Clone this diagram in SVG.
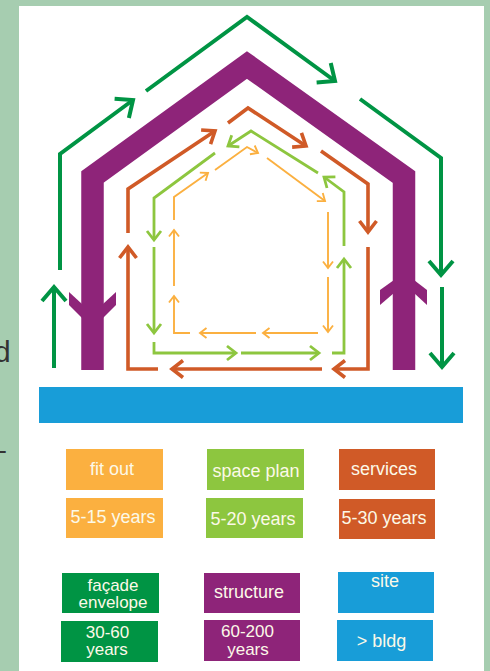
<svg xmlns="http://www.w3.org/2000/svg" width="490" height="671" viewBox="0 0 490 671">
<style>
.fac{fill:none;stroke:#009444;stroke-width:4;stroke-linejoin:miter}
.srv{fill:none;stroke:#d05a27;stroke-width:3.6;stroke-linejoin:miter}
.spc{fill:none;stroke:#8dc63f;stroke-width:2.8;stroke-linejoin:miter}
.fit{fill:none;stroke:#fbb040;stroke-width:1.9;stroke-linejoin:miter}
.lbl{font-family:"Liberation Sans",Arial,sans-serif;font-size:18px;fill:#fcf9e8;text-anchor:middle}
.lbl2{font-family:"Liberation Sans",Arial,sans-serif;font-size:17px;fill:#fcf9e8;text-anchor:middle}
.edge{font-family:"Liberation Sans",Arial,sans-serif;font-size:30px;fill:#333}
</style>
<defs>
<marker id="mFac" markerUnits="userSpaceOnUse" orient="auto" refX="0" refY="0" markerWidth="30" markerHeight="30" overflow="visible"><path d="M-14,-12 L0,0 L-14,12" fill="none" stroke="#009444" stroke-width="4"/></marker>
<marker id="mSrv" markerUnits="userSpaceOnUse" orient="auto" refX="0" refY="0" markerWidth="30" markerHeight="30" overflow="visible"><path d="M-11,-8.5 L0,0 L-11,8.5" fill="none" stroke="#d05a27" stroke-width="3.6"/></marker>
<marker id="mSpc" markerUnits="userSpaceOnUse" orient="auto" refX="0" refY="0" markerWidth="30" markerHeight="30" overflow="visible"><path d="M-9,-7 L0,0 L-9,7" fill="none" stroke="#8dc63f" stroke-width="2.8"/></marker>
<marker id="mFit" markerUnits="userSpaceOnUse" orient="auto" refX="0" refY="0" markerWidth="30" markerHeight="30" overflow="visible"><path d="M-6.5,-5 L0,0 L-6.5,5" fill="none" stroke="#fbb040" stroke-width="1.9"/></marker>
</defs>
<rect x="0" y="0" width="490" height="671" fill="#a6cdb0"/>
<rect x="19" y="6" width="465" height="665" fill="#ffffff"/>
<text class="edge" x="-6" y="362">d</text>
<text class="edge" x="-11" y="460">–</text>

<g id="structure">
<polyline points="92.5,370 92.5,177 247,65 404,177 404,370" fill="none" stroke="#8e2479" stroke-width="22.5" stroke-linejoin="miter" stroke-miterlimit="10"/>
<polygon points="69,292 82,304 82,318 69,305" fill="#8e2479"/>
<polygon points="116,292 103,304 103,318 116,305" fill="#8e2479"/>
<polygon points="394,280 380,290 380,305 394,293" fill="#8e2479"/>
<polygon points="414,280 427,290 427,305 414,293" fill="#8e2479"/>
</g>

<g id="connectors">
<g id="facade-ring">
<polyline class="fac" points="54,368 54,287" marker-end="url(#mFac)"/>
<polyline class="fac" points="60,270 60,154 133,100" marker-end="url(#mFac)"/>
<polyline class="fac" points="146,91 247,17 335,81" marker-end="url(#mFac)"/>
<polyline class="fac" points="360,99 441,158 441,275" marker-end="url(#mFac)"/>
<polyline class="fac" points="442,287 442,367" marker-end="url(#mFac)"/>
</g>
<g id="services-ring">
<polyline class="srv" points="158,369 128,369 128,247" marker-end="url(#mSrv)"/>
<polyline class="srv" points="128,233 128,189 215,131" marker-end="url(#mSrv)"/>
<polyline class="srv" points="228,123 248,108 306,146" marker-end="url(#mSrv)"/>
<polyline class="srv" points="321,151 368,184 368,232" marker-end="url(#mSrv)"/>
<polyline class="srv" points="368,247 368,369 334,369" marker-end="url(#mSrv)"/>
<polyline class="srv" points="322,369 172,369" marker-end="url(#mSrv)"/>
</g>
<g id="spaceplan-ring">
<polyline class="spc" points="215,153 154,198 154,240" marker-end="url(#mSpc)"/>
<polyline class="spc" points="154,247 154,333" marker-end="url(#mSpc)"/>
<polyline class="spc" points="154,342 154,353 236,353" marker-end="url(#mSpc)"/>
<polyline class="spc" points="241,353 319,353" marker-end="url(#mSpc)"/>
<polyline class="spc" points="332,353 344,353 344,259" marker-end="url(#mSpc)"/>
<polyline class="spc" points="344,246 344,192 324,177" marker-end="url(#mSpc)"/>
<polyline class="spc" points="318,173 251,131 228,146" marker-end="url(#mSpc)"/>
</g>
<g id="fitout-ring">
<polyline class="fit" points="174,220 174,197 208,173" marker-end="url(#mFit)"/>
<polyline class="fit" points="215,170 247,147 258,153" marker-end="url(#mFit)"/>
<polyline class="fit" points="267,158 325,201" marker-end="url(#mFit)"/>
<polyline class="fit" points="328,212 328,268" marker-end="url(#mFit)"/>
<polyline class="fit" points="328,277 328,332" marker-end="url(#mFit)"/>
<polyline class="fit" points="318,333 263,333" marker-end="url(#mFit)"/>
<polyline class="fit" points="256,333 200,333" marker-end="url(#mFit)"/>
<polyline class="fit" points="190,333 174,333 174,296" marker-end="url(#mFit)"/>
<polyline class="fit" points="174,286 174,230" marker-end="url(#mFit)"/>
</g>
</g>

<g id="site">
<rect x="39" y="387" width="424" height="36" fill="#189dd8"/>
</g>

<g id="legend-fitout">
<rect x="66" y="449" width="97" height="41" fill="#fbb040"/>
<text class="lbl" x="112" y="475">fit out</text>
</g>
<g id="legend-fitout-years">
<rect x="66" y="498" width="97" height="40" fill="#fbb040"/>
<text class="lbl" x="113" y="523">5-15 years</text>
</g>
<g id="legend-spaceplan">
<rect x="207" y="449" width="97" height="41" fill="#8dc63f"/>
<text class="lbl" x="256" y="477">space plan</text>
</g>
<g id="legend-spaceplan-years">
<rect x="206" y="498" width="97" height="40" fill="#8dc63f"/>
<text class="lbl" x="253" y="525">5-20 years</text>
</g>
<g id="legend-services">
<rect x="339" y="449" width="96" height="41" fill="#d05a27"/>
<text class="lbl" x="384" y="475">services</text>
</g>
<g id="legend-services-years">
<rect x="339" y="499" width="96" height="40" fill="#d05a27"/>
<text class="lbl" x="384" y="524">5-30 years</text>
</g>
<g id="legend-facade">
<rect x="62" y="573" width="97" height="40" fill="#009444"/>
<text class="lbl2" x="113" y="591">façade</text>
<text class="lbl2" x="113" y="608">envelope</text>
</g>
<g id="legend-facade-years">
<rect x="61" y="621" width="97" height="41" fill="#009444"/>
<text class="lbl2" x="107.5" y="638">30-60</text>
<text class="lbl2" x="107" y="655">years</text>
</g>
<g id="legend-structure">
<rect x="204" y="573" width="96" height="40" fill="#8e2479"/>
<text class="lbl" x="249" y="598">structure</text>
</g>
<g id="legend-structure-years">
<rect x="204" y="620" width="96" height="41" fill="#8e2479"/>
<text class="lbl2" x="247.5" y="637">60-200</text>
<text class="lbl2" x="248" y="655">years</text>
</g>
<g id="legend-site">
<rect x="338" y="572" width="96" height="41" fill="#189dd8"/>
<text class="lbl" x="385" y="587">site</text>
</g>
<g id="legend-site-years">
<rect x="337" y="620" width="96" height="41" fill="#189dd8"/>
<text class="lbl" x="381.5" y="647">&gt; bldg</text>
</g>
</svg>
